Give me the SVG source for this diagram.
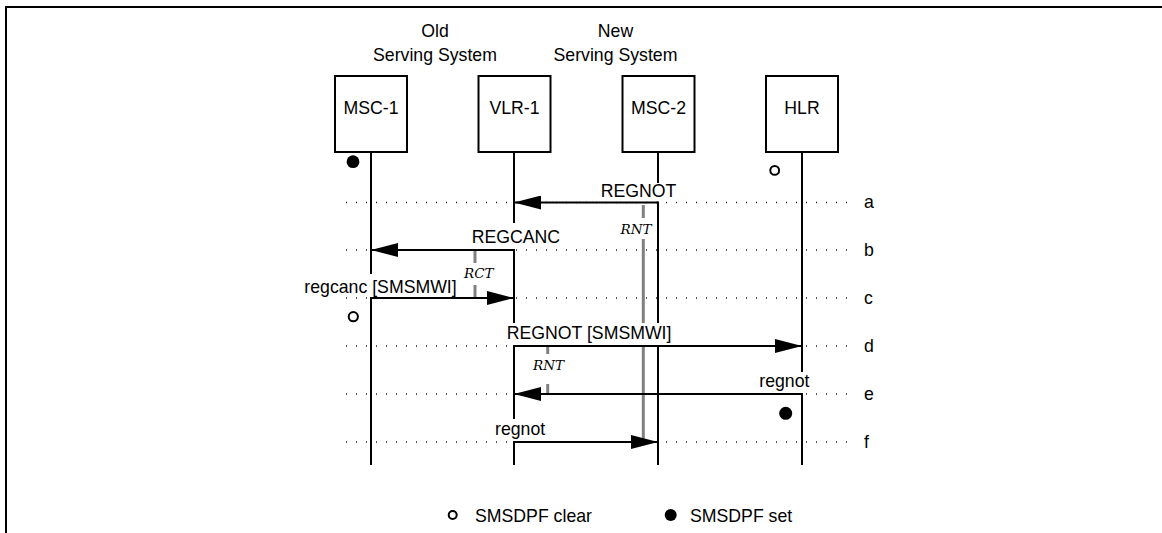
<svg xmlns="http://www.w3.org/2000/svg" width="1162" height="533" viewBox="0 0 1162 533">
<defs>
<style>
text{font-family:"Liberation Sans",Arial,sans-serif;font-size:17.7px;fill:#000}
.tm{font-family:"DejaVu Serif",serif;font-style:italic;font-size:13.5px}
.box{fill:#fff;stroke:#000;stroke-width:2}
.life{stroke:#000;stroke-width:2;fill:none}
.row{stroke:#222;stroke-width:1.6;stroke-dasharray:1 9;fill:none}
.timer{stroke:#808080;stroke-width:3;fill:none}
.msg{stroke:#000;stroke-width:2;fill:none;marker-end:url(#ah)}
.bg{fill:#fff}
.open{fill:#fff;stroke:#000;stroke-width:2}
.full{fill:#000}
</style>
<marker id="ah" markerUnits="userSpaceOnUse" markerWidth="27" markerHeight="14" refX="27" refY="7" orient="auto">
<path d="M0,0 L27,7 L0,14 z" fill="#000"/>
</marker>
</defs>
<rect width="1162" height="533" fill="#fff"/>
<path d="M6,534 V7 H1163" fill="none" stroke="#000" stroke-width="2"/>

<g id="rows">
<path class="row" d="M346,202.5H852 M346,250H852 M346,298H852 M346,346H852 M346,394H852 M346,442H852"/>
<text x="864" y="208">a</text>
<text x="864" y="255.5">b</text>
<text x="864" y="303.5">c</text>
<text x="864" y="351.5">d</text>
<text x="864" y="399.5">e</text>
<text x="864" y="447.5">f</text>
</g>

<text x="435" y="37" text-anchor="middle">Old</text>
<text x="435" y="61" text-anchor="middle">Serving System</text>
<text x="615.5" y="37" text-anchor="middle">New</text>
<text x="615.5" y="61" text-anchor="middle">Serving System</text>

<g id="MSC-1">
<line class="life" x1="371" y1="152" x2="371" y2="465"/>
<rect class="box" x="335" y="76" width="72" height="76"/>
<text x="371" y="114" text-anchor="middle">MSC-1</text>
</g>
<g id="VLR-1">
<line class="life" x1="514" y1="152" x2="514" y2="465"/>
<rect class="box" x="478.5" y="76" width="72" height="76"/>
<text x="514.5" y="114" text-anchor="middle">VLR-1</text>
</g>
<g id="MSC-2">
<line class="life" x1="658" y1="152" x2="658" y2="465"/>
<rect class="box" x="622.5" y="76" width="72" height="76"/>
<text x="658.5" y="114" text-anchor="middle">MSC-2</text>
</g>
<g id="HLR">
<line class="life" x1="802" y1="152" x2="802" y2="465"/>
<rect class="box" x="766" y="76" width="72" height="76"/>
<text x="802" y="114" text-anchor="middle">HLR</text>
</g>

<g id="timers">
<line class="timer" x1="643.3" y1="205" x2="643.3" y2="441"/>
<line class="timer" x1="475" y1="251" x2="475" y2="298"/>
<line class="timer" x1="547.7" y1="347" x2="547.7" y2="394"/>
<rect class="bg" x="619" y="218" width="34" height="21"/>
<rect class="bg" x="462" y="263" width="35" height="22"/>
<rect class="bg" x="531" y="354" width="34" height="30"/>
<text class="tm" x="620.5" y="234">RNT</text>
<text class="tm" x="464" y="278.3">RCT</text>
<text class="tm" x="533" y="370">RNT</text>
</g>

<g id="states">
<circle class="full" cx="353" cy="161.7" r="6.4"/>
<circle class="open" cx="774.7" cy="170.4" r="4.4"/>
<circle class="open" cx="353.3" cy="316.7" r="4.6"/>
<circle class="full" cx="785.7" cy="413.3" r="6.5"/>
</g>

<g id="connectors">
<rect class="bg" x="599" y="183" width="80" height="18.5"/>
<rect class="bg" x="470" y="223" width="92" height="26"/>
<rect class="bg" x="302" y="274" width="157" height="23"/>
<rect class="bg" x="505" y="323" width="171" height="22"/>
<rect class="bg" x="757" y="372" width="54" height="21"/>
<rect class="bg" x="493" y="419" width="54" height="22"/>
<path class="msg" d="M658,202.5H514"/>
<path class="msg" d="M514,250H371"/>
<path class="msg" d="M371,298H514"/>
<path class="msg" d="M514,346H802"/>
<path class="msg" d="M802,394H514"/>
<path class="msg" d="M514,442H658"/>
<text x="600.7" y="197.3">REGNOT</text>
<text x="471.7" y="243.3">REGCANC</text>
<text x="456.7" y="292.5" text-anchor="end">regcanc [SMSMWI]</text>
<text x="506.7" y="339.3">REGNOT [SMSMWI]</text>
<text x="759.3" y="387.3">regnot</text>
<text x="495" y="435">regnot</text>
</g>

<g id="legend">
<circle class="open" cx="452.7" cy="515" r="4"/>
<text x="475" y="521.7">SMSDPF clear</text>
<circle class="full" cx="670.7" cy="515" r="6"/>
<text x="690" y="521.7">SMSDPF set</text>
</g>
</svg>
